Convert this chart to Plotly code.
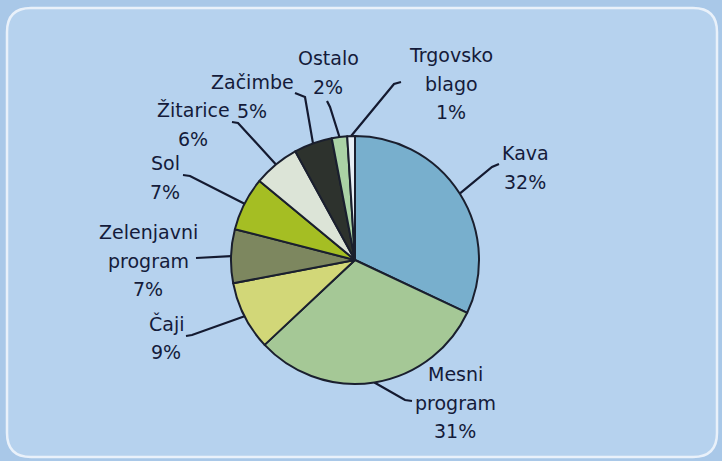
import math
import plotly.graph_objects as go

# ---- data ----
categories = ["Kava", "Mesni program", "Čaji", "Zelenjavni program", "Sol",
              "Žitarice", "Začimbe", "Ostalo", "Trgovsko blago"]
shares = [32, 31, 9, 7, 7, 6, 5, 2, 1]
label_lines = [["Kava", "32%"], ["Mesni", "program", "31%"], ["Čaji", "9%"],
               ["Zelenjavni", "program", "7%"], ["Sol", "7%"], ["Žitarice", "6%"],
               ["Začimbe", "5%"], ["Ostalo", "2%"], ["Trgovsko", "blago", "1%"]]

# ---- styles / layout ----
colors = ["#78afcd", "#a5c896", "#d2d778", "#7d875f", "#a5be23",
          "#dce4d7", "#2d322d", "#aad2a5", "#e6eef5"]
W, H = 722, 461
CX, CY, R = 355, 260, 124
# label anchor (center x, first-line y) in pixels
label_pos = [(525, 153), (455, 374), (166, 323), (148, 232), (165, 163),
             (193, 110), (252, 82), (328, 58), (451, 55)]
# leader line elbow and end points in pixels
leader_elbow = [(492, 167), (405, 400), (192, 335), (200, 258), (190, 176),
                (238, 123), (305, 97), (330, 107), (394, 84)]
leader_end = [(499, 164), (412, 401), (186, 336), (196, 258), (183, 175),
              (232, 122), (295, 93), (327, 101), (401, 82)]
LINE_H = 28.5
TEXT_COLOR = "#141b3a"
FONT = "DejaVu Sans"

fig = go.Figure()

fig.add_trace(go.Pie(
    labels=categories, values=shares, sort=False, direction="clockwise",
    rotation=0, textinfo="none", hoverinfo="label+percent",
    marker=dict(colors=colors, line=dict(color="#1a1f2e", width=2)),
    domain=dict(x=[(CX - R) / W, (CX + R) / W],
                y=[(H - CY - R) / H, (H - CY + R) / H]),
    showlegend=False,
))

total = sum(shares)
cum = 0
for i, v in enumerate(shares):
    mid = (cum + v / 2) / total * 2 * math.pi
    cum += v
    sx = CX + R * math.sin(mid)
    sy = CY - R * math.cos(mid)
    ex, ey = leader_elbow[i]
    fx, fy = leader_end[i]
    fig.add_trace(go.Scatter(
        x=[sx, ex, fx], y=[sy, ey, fy], mode="lines",
        line=dict(color="#141a30", width=2.2), hoverinfo="skip",
        showlegend=False, xaxis="x", yaxis="y"))
    lx, ly = label_pos[i]
    for j, t in enumerate(label_lines[i]):
        fig.add_annotation(x=lx, y=ly + j * LINE_H, xref="x", yref="y",
                           text=t, showarrow=False, xanchor="center",
                           yanchor="middle",
                           font=dict(family=FONT, size=19, color=TEXT_COLOR))

# rounded panel border
x0, y0, x1, y1, r = 7, 8, 717, 457, 24
path = (f"M {x0 + r},{y0} L {x1 - r},{y0} Q {x1},{y0} {x1},{y0 + r} "
        f"L {x1},{y1 - r} Q {x1},{y1} {x1 - r},{y1} L {x0 + r},{y1} "
        f"Q {x0},{y1} {x0},{y1 - r} L {x0},{y0 + r} Q {x0},{y0} {x0 + r},{y0} Z")
fig.add_shape(type="path", path=path, xref="x", yref="y",
              line=dict(color="#e9f1fa", width=2.5), fillcolor="#b6d2ee",
              layer="below")

fig.update_layout(
    width=W, height=H, margin=dict(l=0, r=0, t=0, b=0),
    paper_bgcolor="#a9c8e8", plot_bgcolor="rgba(0,0,0,0)",
    xaxis=dict(range=[0, W], visible=False, fixedrange=True),
    yaxis=dict(range=[H, 0], visible=False, fixedrange=True),
    font=dict(family=FONT, color=TEXT_COLOR),
)

fig.write_html("out.html",
               config={"displayModeBar": False},
               post_script="document.body.style.margin='0';"
                           "document.body.style.background='#a9c8e8';")
